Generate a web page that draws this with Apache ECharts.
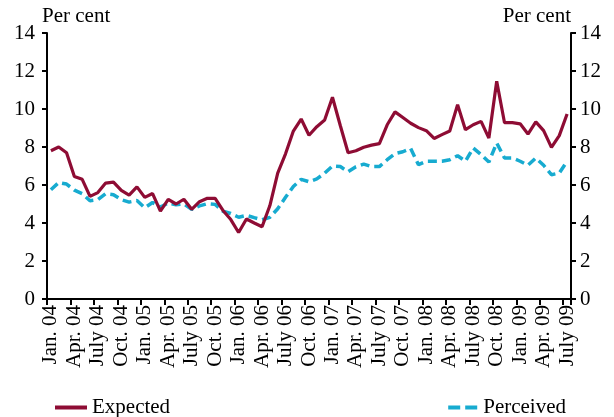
<!DOCTYPE html>
<html>
<head>
<meta charset="utf-8">
<script src="https://cdn.jsdelivr.net/npm/echarts@6/dist/echarts.min.js"></script>
<style>
  html, body { margin: 0; padding: 0; background: #fff; }
  #chart { width: 614px; height: 417px; }
</style>
</head>
<body>
<div id="chart"></div>
<script>
// month labels, Jan. 04 .. July 09
const monthNames = ["Jan.", "Feb.", "Mar.", "Apr.", "May", "June", "July", "Aug.", "Sept.", "Oct.", "Nov.", "Dec."];
const years = ["04", "05", "06", "07", "08", "09"];
const categories = [];
years.forEach(y => monthNames.forEach(m => categories.push(m + " " + y)));
categories.length = 67;

// per cent
const expected = [
  7.8, 8.0, 7.7, 6.45, 6.3, 5.4, 5.6, 6.1, 6.15, 5.72, 5.47, 5.9,
  5.35, 5.55, 4.63, 5.24, 5.0, 5.25, 4.72, 5.12, 5.3, 5.3, 4.66, 4.18,
  3.5, 4.21, 4.0, 3.8, 4.92, 6.63, 7.64, 8.84, 9.47, 8.62, 9.07, 9.42,
  10.62, 9.13, 7.7, 7.8, 7.99, 8.1, 8.18, 9.17, 9.85, 9.55, 9.25, 9.02,
  8.86, 8.45, 8.65, 8.84, 10.23, 8.91, 9.17, 9.35, 8.47, 11.46, 9.28, 9.28,
  9.22, 8.68, 9.32, 8.86, 7.98, 8.6, 9.74
];
const perceived = [
  5.75, 6.13, 6.05, 5.73, 5.54, 5.17, 5.23, 5.54, 5.49, 5.23, 5.1, 5.18,
  4.8, 5.08, 4.84, 5.05, 4.96, 5.0, 4.72, 4.9, 5.02, 4.98, 4.62, 4.5,
  4.3, 4.4, 4.28, 4.17, 4.3, 4.75, 5.35, 5.92, 6.3, 6.17, 6.32, 6.62,
  7.0, 6.97, 6.7, 6.96, 7.1, 6.97, 6.97, 7.33, 7.65, 7.75, 7.92, 7.07,
  7.25, 7.25, 7.25, 7.33, 7.54, 7.25, 7.95, 7.6, 7.21, 8.21, 7.42, 7.42,
  7.25, 7.04, 7.42, 7.04, 6.54, 6.63, 7.25
];

const font = "'Liberation Serif', 'DejaVu Serif', serif";
const red = "#8e0c34";
const blue = "#17abd0";

const chart = echarts.init(document.getElementById("chart"));

const yAxisBase = {
  type: "value",
  min: 0,
  max: 14,
  interval: 2,
  splitLine: { show: false },
  axisLine: { show: true, lineStyle: { color: "#000", width: 2 } },
  axisTick: { show: true, length: 5, lineStyle: { color: "#000", width: 2 } },
  name: "Per cent",
  nameLocation: "end",
  nameGap: 6
};

const legendText = { fontFamily: font, fontSize: 21, color: "#000" };

const option = {
  animation: false,
  textStyle: { fontFamily: font },
  grid: { left: 47, right: 43, top: 33, bottom: 118 },
  legend: [
    {
      data: ["Expected"],
      left: 48,
      top: 392,
      itemWidth: 32,
      itemHeight: 12,
      itemStyle: { opacity: 0 },
      lineStyle: { width: 4, color: red },
      textStyle: legendText
    },
    {
      data: ["Perceived"],
      right: 43,
      top: 392,
      itemWidth: 30,
      itemHeight: 12,
      itemStyle: { opacity: 0 },
      lineStyle: { width: 4, color: blue, type: [12, 5] },
      textStyle: legendText
    }
  ],
  xAxis: {
    type: "category",
    data: categories,
    boundaryGap: true,
    axisLine: { lineStyle: { color: "#000", width: 2 } },
    axisTick: { show: true, interval: 2, length: 6, lineStyle: { color: "#000", width: 2 } },
    axisLabel: {
      interval: 2,
      rotate: 90,
      margin: 6,
      color: "#000",
      fontFamily: font,
      fontSize: 21
    }
  },
  yAxis: [
    Object.assign({}, yAxisBase, {
      position: "left",
      axisLabel: { margin: 12, color: "#000", fontFamily: font, fontSize: 21 },
      nameTextStyle: { align: "left", verticalAlign: "bottom", color: "#000", fontFamily: font, fontSize: 21, padding: [0, 0, 0, -5] }
    }),
    Object.assign({}, yAxisBase, {
      position: "right",
      axisLabel: { margin: 9, color: "#000", fontFamily: font, fontSize: 21 },
      nameTextStyle: { align: "right", verticalAlign: "bottom", color: "#000", fontFamily: font, fontSize: 21 }
    })
  ],
  series: [
    {
      name: "Expected",
      type: "line",
      data: expected,
      symbol: "none",
      z: 3,
      itemStyle: { color: red },
      lineStyle: { color: red, width: 3.2 }
    },
    {
      name: "Perceived",
      type: "line",
      data: perceived,
      symbol: "none",
      z: 2,
      itemStyle: { color: blue },
      lineStyle: { color: blue, width: 3.5, type: [9, 5] }
    }
  ]
};

chart.setOption(option);
</script>
</body>
</html>
